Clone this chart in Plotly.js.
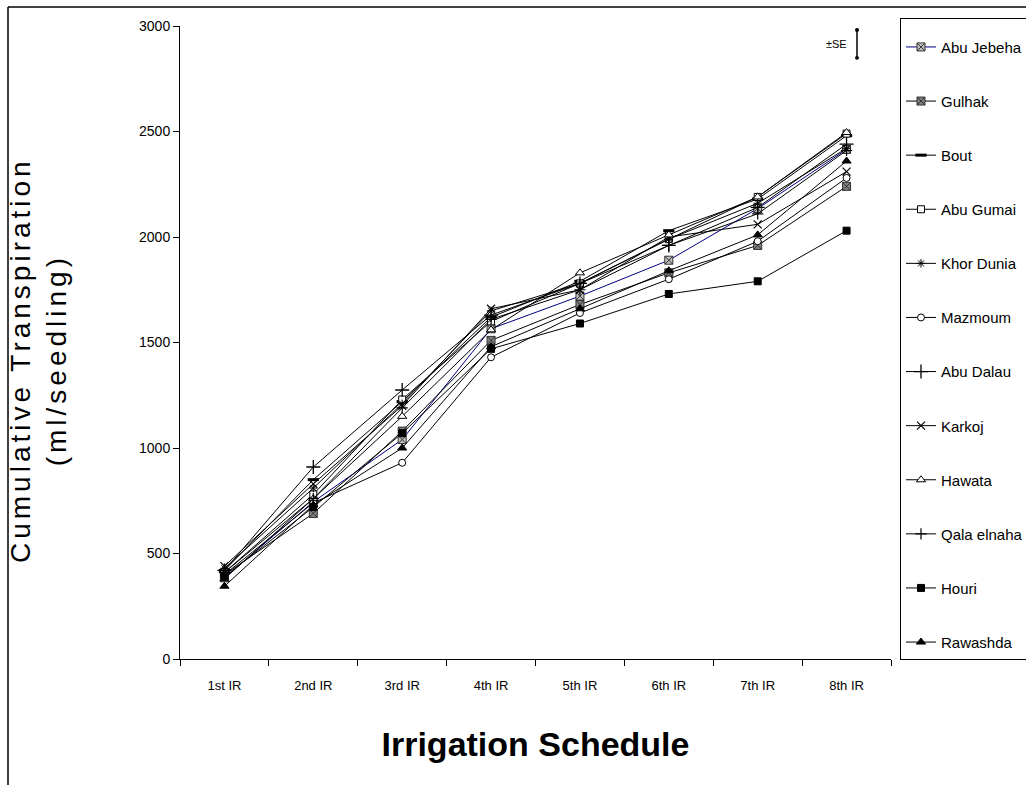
<!DOCTYPE html>
<html>
<head>
<meta charset="utf-8">
<script src="https://cdn.plot.ly/plotly-3.0.1.min.js"></script>
<style>
html, body { margin: 0; padding: 0; background: #fff; }
#chart { width: 1026px; height: 785px; }
#chart g.annotation[data-index="0"] text { letter-spacing: 4px; }
</style>
</head>
<body>
<div id="chart"></div>
<script>
// Categories
var schedule = ["1st IR", "2nd IR", "3rd IR", "4th IR", "5th IR", "6th IR", "7th IR", "8th IR"];

// Cumulative transpiration (ml/seedling)
var abuJebeha  = [385, 745, 1040, 1565, 1720, 1890, 2135, 2415];
var gulhak     = [400, 690, 1080, 1510, 1680, 1830, 1960, 2240];
var bout       = [420, 850, 1220, 1620, 1790, 2030, 2180, 2480];
var abuGumai   = [410, 780, 1230, 1600, 1780, 1990, 2190, 2490];
var khorDunia  = [430, 810, 1210, 1650, 1780, 1990, 2160, 2420];
var mazmoum    = [400, 740, 930, 1430, 1640, 1800, 1980, 2280];
var abuDalau   = [420, 910, 1275, 1630, 1780, 1960, 2140, 2440];
var karkoj     = [440, 830, 1200, 1660, 1750, 2000, 2060, 2310];
var hawata     = [380, 760, 1150, 1560, 1830, 2010, 2190, 2495];
var qalaElnaha = [410, 760, 1190, 1610, 1750, 1960, 2110, 2410];
var houri      = [390, 720, 1070, 1470, 1590, 1730, 1790, 2030];
var rawashda   = [345, 730, 1000, 1480, 1660, 1840, 2010, 2360];

var seriesNames = ["Abu Jebeha", "Gulhak", "Bout", "Abu Gumai", "Khor Dunia", "Mazmoum",
                   "Abu Dalau", "Karkoj", "Hawata", "Qala elnaha", "Houri", "Rawashda"];
var seriesValues = [abuJebeha, gulhak, bout, abuGumai, khorDunia, mazmoum,
                    abuDalau, karkoj, hawata, qalaElnaha, houri, rawashda];

// SE indicator (ml/seedling)
var seCenter = 2915;
var seHalf = 66;

var SANS = '"Liberation Sans", Arial, sans-serif';

var styles = [
  {color: "#000080", symbol: "square-x", size: 8, fill: "#c0c0c0", lc: "#333333"},
  {color: "#000000", symbol: "square-x", size: 8, fill: "#808080", lc: "#333333"},
  {color: "#000000", symbol: "line-ew", size: 8, fill: "#000000", lc: "#000000", lw: 3},
  {color: "#000000", symbol: "square", size: 7, fill: "#ffffff", lc: "#000000"},
  {color: "#000000", symbol: "asterisk-open", size: 7, fill: "#000000", lc: "#000000"},
  {color: "#000000", symbol: "circle", size: 7, fill: "#ffffff", lc: "#000000"},
  {color: "#000000", symbol: "cross-thin-open", size: 10, fill: "#000000", lc: "#000000", lw: 1.3},
  {color: "#000000", symbol: "x-thin-open", size: 8, fill: "#000000", lc: "#000000", lw: 1.2},
  {color: "#000000", symbol: "triangle-up", size: 8, fill: "#ffffff", lc: "#000000"},
  {color: "#000000", symbol: "cross-thin-open", size: 8, fill: "#000000", lc: "#000000", lw: 1.2},
  {color: "#000000", symbol: "square", size: 7, fill: "#000000", lc: "#000000"},
  {color: "#000000", symbol: "triangle-up", size: 8, fill: "#000000", lc: "#000000"}
];

var traces = seriesNames.map(function (name, i) {
  var s = styles[i];
  return {
    type: "scatter",
    mode: "lines+markers",
    name: name,
    legendgroup: "g" + i,
    x: schedule,
    y: seriesValues[i],
    line: {color: s.color, width: 1},
    marker: {symbol: s.symbol, size: s.size, color: s.fill,
             line: {color: s.lc, width: s.lw || 1}},
    cliponaxis: false
  };
});

var L = 180, R = 891, T = 26, B = 659;
function px(xp) { return (xp - L) / (R - L); }
function py(yp) { return (B - yp) / (B - T); }

var layout = {
  width: 1026,
  height: 785,
  paper_bgcolor: "#ffffff",
  plot_bgcolor: "#ffffff",
  margin: {l: L, r: 1026 - R, t: T, b: 785 - B, autoexpand: false},
  showlegend: true,
  font: {family: SANS, color: "#000000"},
  xaxis: {
    type: "category",
    range: [-0.5, 7.5],
    tickson: "boundaries",
    ticks: "outside",
    ticklen: 6,
    tickcolor: "#000000",
    ticklabelstandoff: 14,
    showline: true,
    linecolor: "#000000",
    linewidth: 1,
    showgrid: false,
    zeroline: false,
    tickfont: {family: SANS, size: 13, color: "#000000"},
    title: {text: "<b>Irrigation Schedule</b>", font: {family: SANS, size: 34, color: "#000000"}, standoff: 40}
  },
  yaxis: {
    range: [0, 3000],
    tickvals: [0, 500, 1000, 1500, 2000, 2500, 3000],
    ticks: "outside",
    ticklen: 6,
    tickcolor: "#000000",
    showline: true,
    linecolor: "#000000",
    linewidth: 1,
    showgrid: false,
    zeroline: false,
    tickfont: {family: SANS, size: 14, color: "#000000"}
  },
  legend: {
    x: px(900), y: py(18), xanchor: "left", yanchor: "top",
    bordercolor: "#000000", borderwidth: 1,
    bgcolor: "#ffffff",
    font: {family: SANS, size: 15, color: "#000000"},
    traceorder: "grouped",
    tracegroupgap: 31.6,
    itemwidth: 30,
    maxheight: 760,
    title: {text: " ", font: {family: SANS, size: 9}}
  },
  annotations: [
    {
      xref: "paper", yref: "paper",
      x: px(38), y: py(360),
      xanchor: "center", yanchor: "middle",
      text: "Cumulative Transpiration<br>(ml/seedling)",
      textangle: -90,
      showarrow: false,
      font: {family: SANS, size: 28, color: "#000000"}
    },
    {
      xref: "paper", yref: "y",
      x: px(836), y: seCenter,
      xanchor: "center", yanchor: "middle",
      text: "±SE",
      showarrow: false,
      font: {family: SANS, size: 11, color: "#000000"}
    }
  ],
  shapes: [
    {type: "line", xref: "paper", yref: "y", x0: px(857), x1: px(857), y0: seCenter - seHalf, y1: seCenter + seHalf,
     line: {color: "#000000", width: 1.5}},
    {type: "circle", xref: "paper", yref: "y", x0: px(855), x1: px(859), y0: seCenter + seHalf - 9, y1: seCenter + seHalf + 9,
     fillcolor: "#000000", line: {color: "#000000", width: 0}},
    {type: "circle", xref: "paper", yref: "y", x0: px(855), x1: px(859), y0: seCenter - seHalf - 9, y1: seCenter - seHalf + 9,
     fillcolor: "#000000", line: {color: "#000000", width: 0}},
    {type: "line", xref: "paper", yref: "paper", x0: px(8), x1: px(1030), y0: py(7), y1: py(7),
     line: {color: "#000000", width: 1.5}},
    {type: "line", xref: "paper", yref: "paper", x0: px(8), x1: px(8), y0: py(7), y1: py(790),
     line: {color: "#000000", width: 1.5}}
  ]
};

Plotly.newPlot("chart", traces, layout, {displayModeBar: false, responsive: false});
</script>
</body>
</html>
